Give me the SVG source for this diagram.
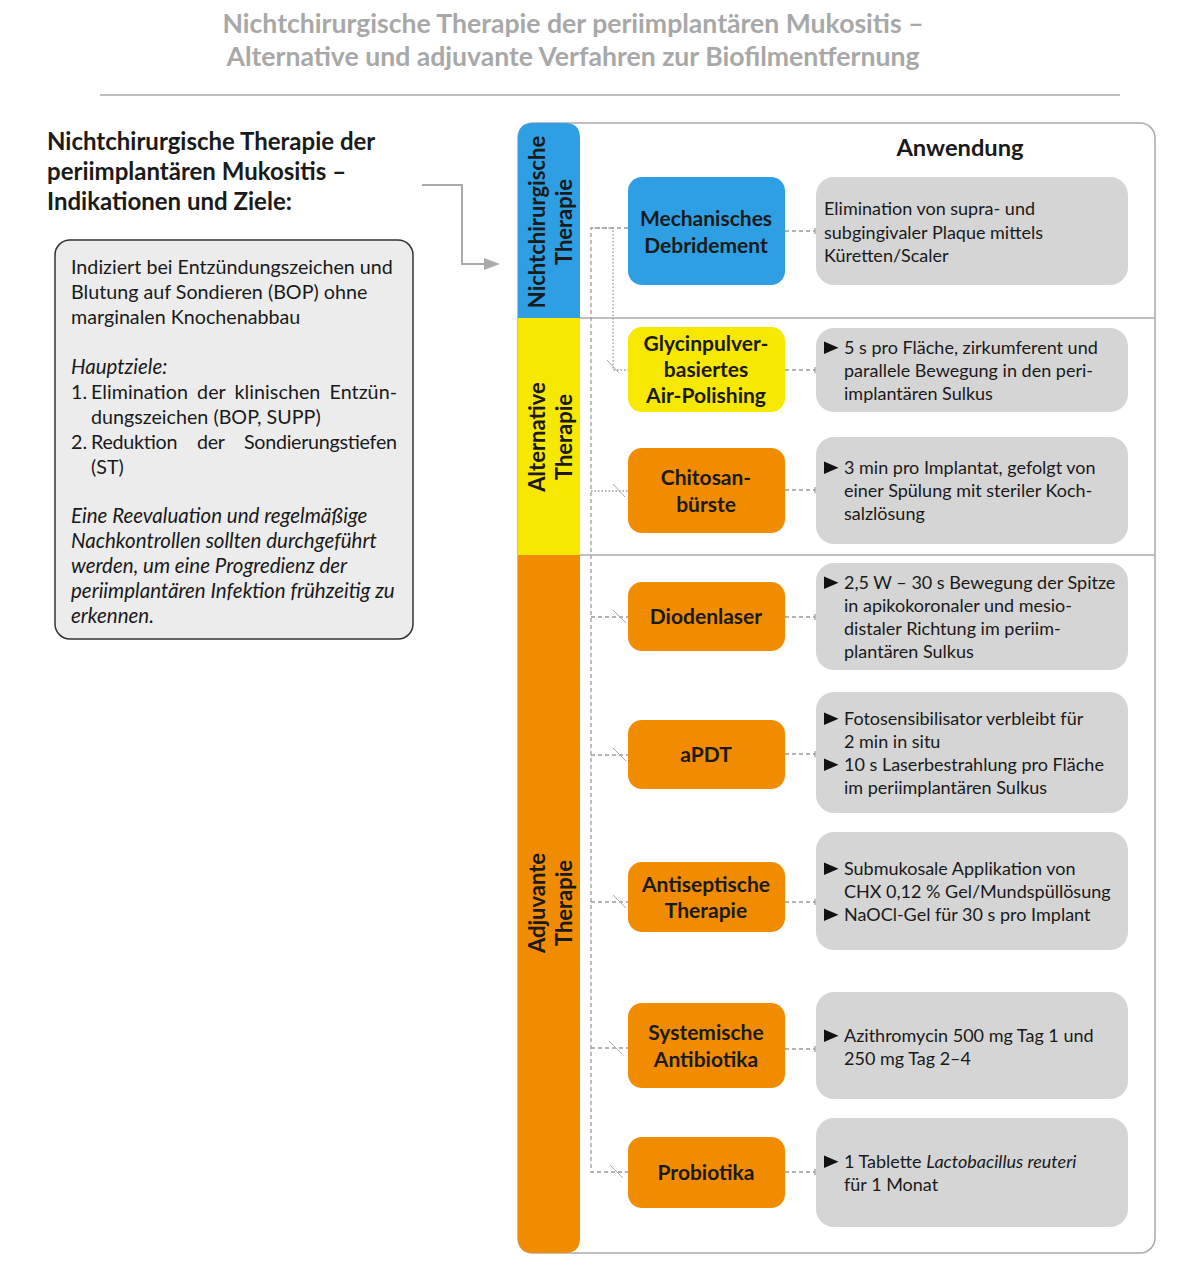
<svg xmlns="http://www.w3.org/2000/svg" width="1197" height="1280" viewBox="0 0 1197 1280">
<defs>
<style>
text{font-family:Lato,"Noto Sans","Liberation Sans",sans-serif;fill:#1a1a1a}
.title{font-size:26.6px;font-weight:bold;fill:#a8a8a8;text-anchor:middle}
.head{font-size:24px;font-weight:bold}
.body{font-size:19.7px}
.it{font-style:italic}
.bi{font-size:20.5px;font-style:italic}
.node{font-size:21px;font-weight:bold;text-anchor:middle}
.side{font-size:22px;font-weight:bold;text-anchor:middle}
.app{font-size:18px}
.gbox{fill:#d5d5d5}
.dash{stroke:#9a9a9a;stroke-width:1.3;stroke-dasharray:4 3;fill:none}
.dot{stroke:#9a9a9a;stroke-width:1.3;stroke-dasharray:1.5 2;fill:none}
.slash{stroke:#aaaaaa;stroke-width:1;fill:none}
.tick{stroke:#9a9a9a;stroke-width:1.3}
</style>
<polygon id="tri" points="0,-12.5 14.5,-6.25 0,0" fill="#111"/>
<marker id="arr" markerWidth="16" markerHeight="12" refX="0" refY="6" orient="auto" markerUnits="userSpaceOnUse">
<polygon points="0,0 16,6 0,12" fill="#aaaaaa"/>
</marker>
</defs>
<rect width="1197" height="1280" fill="#ffffff"/>

<g id="title">
<text class="title" x="573" y="33">Nichtchirurgische Therapie der periimplantären Mukositis –</text>
<text class="title" x="573" y="66">Alternative und adjuvante Verfahren zur Biofilmentfernung</text>
<line x1="100" y1="95" x2="1120" y2="95" stroke="#aaaaaa" stroke-width="1.5"/>
</g>

<g id="left-heading">
<text class="head" x="47" y="150">Nichtchirurgische Therapie der</text>
<text class="head" x="47" y="180">periimplantären Mukositis –</text>
<text class="head" x="47" y="210">Indikationen und Ziele:</text>
</g>

<g id="left-box">
<rect x="55" y="240" width="358" height="399" rx="15" fill="#ececec" stroke="#333333" stroke-width="1.5"/>
<text class="body" x="71" y="274">Indiziert bei Entzündungszeichen und</text>
<text class="body" x="71" y="299">Blutung auf Sondieren (BOP) ohne</text>
<text class="body" x="71" y="324">marginalen Knochenabbau</text>
<text class="bi" x="71" y="374">Hauptziele:</text>
<text class="body" x="71" y="399">1.</text>
<text class="body" x="91" y="399" word-spacing="4" textLength="306" lengthAdjust="spacing">Elimination der klinischen Entzün-</text>
<text class="body" x="91" y="424">dungszeichen (BOP, SUPP)</text>
<text class="body" x="71" y="449">2.</text>
<text class="body" x="91" y="449" word-spacing="15" textLength="306" lengthAdjust="spacing">Reduktion der Sondierungstiefen</text>
<text class="body" x="91" y="474">(ST)</text>
<text class="bi" x="71" y="523">Eine Reevaluation und regelmäßige</text>
<text class="bi" x="71" y="548">Nachkontrollen sollten durchgeführt</text>
<text class="bi" x="71" y="573">werden, um eine Progredienz der</text>
<text class="bi" x="71" y="598">periimplantären Infektion frühzeitig zu</text>
<text class="bi" x="71" y="623">erkennen.</text>
</g>

<g id="main-arrow">
<polyline points="422,185 462,185 462,264 484,264" fill="none" stroke="#aaaaaa" stroke-width="2" marker-end="url(#arr)"/>
</g>

<g id="panel">
<rect x="518" y="123" width="637" height="1130" rx="15" fill="#ffffff" stroke="#aaaaaa" stroke-width="1.5"/>
<line x1="580" y1="318" x2="1155" y2="318" stroke="#aaaaaa" stroke-width="1.5"/>
<line x1="580" y1="555" x2="1155" y2="555" stroke="#aaaaaa" stroke-width="1.5"/>
<text x="960" y="156" font-size="23.7" font-weight="bold" text-anchor="middle">Anwendung</text>
</g>

<g id="side-nichtchirurgisch">
<path d="M518,318 V138 Q518,123 533,123 H565 Q580,123 580,138 V318 Z" fill="#2f9fe4"/>
<text class="side" transform="translate(0,222) rotate(-90)"><tspan x="0" y="545">Nichtchirurgische</tspan><tspan x="0" y="572">Therapie</tspan></text>
</g>
<g id="side-alternativ">
<rect x="518" y="318" width="62" height="237" fill="#f7e800"/>
<text class="side" transform="translate(0,437) rotate(-90)"><tspan x="0" y="545">Alternative</tspan><tspan x="0" y="572">Therapie</tspan></text>
</g>
<g id="side-adjuvant">
<path d="M518,555 H580 V1238 Q580,1253 565,1253 H533 Q518,1253 518,1238 Z" fill="#f18b00"/>
<text class="side" transform="translate(0,903) rotate(-90)"><tspan x="0" y="545">Adjuvante</tspan><tspan x="0" y="572">Therapie</tspan></text>
</g>

<g id="connectors">
<path class="dash" d="M628,228 H591 V1172 H628"/>
<path class="dot" d="M591,228 H613 V370 H628"/>
<path class="dot" d="M591,491 H628"/>
<path class="dash" d="M591,617 H628 M591,755 H628 M591,902 H628 M591,1048 H628"/>
<line class="slash" x1="607" y1="360" x2="619" y2="373"/>
<line class="slash" x1="613" y1="484" x2="625" y2="497"/>
<line class="slash" x1="613" y1="610" x2="626" y2="623"/>
<line class="slash" x1="613" y1="748" x2="626" y2="761"/>
<line class="slash" x1="613" y1="895" x2="626" y2="908"/>
<line class="slash" x1="609" y1="1041" x2="622" y2="1054"/>
<line class="slash" x1="610" y1="1165" x2="623" y2="1178"/>
<path class="dash" d="M785,231 H815 M785,370 H815 M785,490 H815 M785,617 H815 M785,754 H815 M785,902 H815 M785,1049 H815 M785,1172 H815"/>
<path class="tick" d="M815,228 V234 M815,367 V373 M815,487 V493 M815,614 V620 M815,751 V757 M815,899 V905 M815,1046 V1052 M815,1169 V1175"/>
</g>

<g id="n-mechanisch">
<rect x="628" y="177" width="157" height="108" rx="14" fill="#2f9fe4"/>
<text class="node" x="706" y="226">Mechanisches</text>
<text class="node" x="706" y="253">Debridement</text>
</g>
<g id="n-glycin">
<rect x="628" y="327" width="157" height="85" rx="14" fill="#f7e800"/>
<text class="node" x="706" y="351">Glycinpulver-</text>
<text class="node" x="706" y="377">basiertes</text>
<text class="node" x="706" y="403">Air-Polishing</text>
</g>
<g id="n-chitosan">
<rect x="628" y="448" width="157" height="85" rx="14" fill="#f18b00"/>
<text class="node" x="706" y="485">Chitosan-</text>
<text class="node" x="706" y="512">bürste</text>
</g>
<g id="n-dioden">
<rect x="628" y="582" width="157" height="69" rx="14" fill="#f18b00"/>
<text class="node" x="706" y="624">Diodenlaser</text>
</g>
<g id="n-apdt">
<rect x="628" y="720" width="157" height="69" rx="14" fill="#f18b00"/>
<text class="node" x="706" y="762">aPDT</text>
</g>
<g id="n-antiseptisch">
<rect x="628" y="862" width="157" height="70" rx="14" fill="#f18b00"/>
<text class="node" x="706" y="892">Antiseptische</text>
<text class="node" x="706" y="918">Therapie</text>
</g>
<g id="n-systemisch">
<rect x="628" y="1003" width="157" height="85" rx="14" fill="#f18b00"/>
<text class="node" x="706" y="1040">Systemische</text>
<text class="node" x="706" y="1067">Antibiotika</text>
</g>
<g id="n-probiotika">
<rect x="628" y="1137" width="157" height="71" rx="14" fill="#f18b00"/>
<text class="node" x="706" y="1180">Probiotika</text>
</g>

<g id="a-mechanisch">
<rect class="gbox" x="816" y="177" width="312" height="108" rx="18"/>
<text class="app" x="824" y="215">Elimination von supra- und</text>
<text class="app" x="824" y="239">subgingivaler Plaque mittels</text>
<text class="app" x="824" y="262">Küretten/Scaler</text>
</g>
<g id="a-glycin">
<rect class="gbox" x="816" y="328" width="312" height="84" rx="18"/>
<use href="#tri" x="824" y="354"/>
<text class="app" x="844" y="354">5 s pro Fläche, zirkumferent und</text>
<text class="app" x="844" y="377">parallele Bewegung in den peri-</text>
<text class="app" x="844" y="400">implantären Sulkus</text>
</g>
<g id="a-chitosan">
<rect class="gbox" x="816" y="437" width="312" height="107" rx="18"/>
<use href="#tri" x="824" y="474"/>
<text class="app" x="844" y="474">3 min pro Implantat, gefolgt von</text>
<text class="app" x="844" y="497">einer Spülung mit steriler Koch-</text>
<text class="app" x="844" y="520">salzlösung</text>
</g>
<g id="a-dioden">
<rect class="gbox" x="816" y="563" width="312" height="107" rx="18"/>
<use href="#tri" x="824" y="589"/>
<text class="app" x="844" y="589">2,5 W – 30 s Bewegung der Spitze</text>
<text class="app" x="844" y="612">in apikokoronaler und mesio-</text>
<text class="app" x="844" y="635">distaler Richtung im periim-</text>
<text class="app" x="844" y="658">plantären Sulkus</text>
</g>
<g id="a-apdt">
<rect class="gbox" x="816" y="692" width="312" height="121" rx="18"/>
<use href="#tri" x="824" y="725"/>
<text class="app" x="844" y="725">Fotosensibilisator verbleibt für</text>
<text class="app" x="844" y="748">2 min in situ</text>
<use href="#tri" x="824" y="771"/>
<text class="app" x="844" y="771">10 s Laserbestrahlung pro Fläche</text>
<text class="app" x="844" y="794">im periimplantären Sulkus</text>
</g>
<g id="a-antiseptisch">
<rect class="gbox" x="816" y="832" width="312" height="118" rx="18"/>
<use href="#tri" x="824" y="875"/>
<text class="app" x="844" y="875">Submukosale Applikation von</text>
<text class="app" x="844" y="898">CHX 0,12 % Gel/Mundspüllösung</text>
<use href="#tri" x="824" y="921"/>
<text class="app" x="844" y="921">NaOCl-Gel für 30 s pro Implant</text>
</g>
<g id="a-systemisch">
<rect class="gbox" x="816" y="992" width="312" height="107" rx="18"/>
<use href="#tri" x="824" y="1042"/>
<text class="app" x="844" y="1042">Azithromycin 500 mg Tag 1 und</text>
<text class="app" x="844" y="1065">250 mg Tag 2–4</text>
</g>
<g id="a-probiotika">
<rect class="gbox" x="816" y="1118" width="312" height="109" rx="18"/>
<use href="#tri" x="824" y="1168"/>
<text class="app" x="844" y="1168">1 Tablette <tspan class="it">Lactobacillus reuteri</tspan></text>
<text class="app" x="844" y="1191">für 1 Monat</text>
</g>
</svg>
